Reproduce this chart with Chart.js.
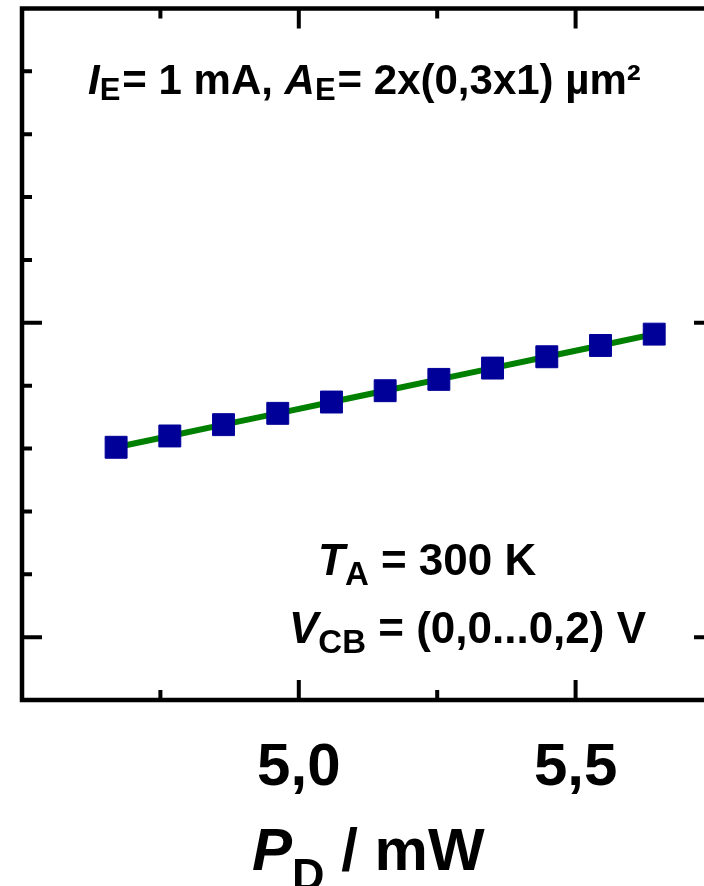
<!DOCTYPE html>
<html>
<head>
<meta charset="utf-8">
<title>P_D sweep</title>
<script src="https://cdn.jsdelivr.net/npm/chart.js@4.4.1/dist/chart.umd.min.js"></script>
<style>
    html, body { margin: 0; padding: 0; background: #ffffff; overflow: hidden; }
    #wrap { width: 704px; height: 886px; overflow: hidden; }
    canvas { display: block; }
</style>
</head>
<body>
<div id="wrap"><canvas id="pdChart" width="730" height="886"></canvas></div>
<script>
// dissipated power P_D in mW
const pdValues = [4.670, 4.767, 4.864, 4.962, 5.059, 5.156, 5.253, 5.350, 5.448, 5.545, 5.642];
// measured quantity (axis labels are cut off in the original, arbitrary units)
const yValues = [3.02, 3.20, 3.38, 3.56, 3.74, 3.92, 4.10, 4.28, 4.46, 4.64, 4.82];

const xTickValues = [4.75, 5.0, 5.25, 5.5];
const xTickLabels = ['', '5,0', '', '5,5'];
const xMajorTicks = [5.0, 5.5];
const yTickValues = [0, 1, 2, 3, 4, 5, 6, 7, 8, 9];
const yMajorTicks = [0, 5];

const FONT = 'Arial, "Liberation Sans", sans-serif';

// draw a row of text pieces (italic symbols, subscripts, superscripts)
function drawRuns(ctx, x, baseline, runs) {
    let cx = x;
    runs.forEach(r => {
        ctx.font = (r.italic ? 'italic ' : '') + 'bold ' + r.size + 'px ' + FONT;
        ctx.fillText(r.text, cx, baseline + (r.dy || 0));
        cx += ctx.measureText(r.text).width + (r.gap || 0);
    });
}

const framePlugin = {
    id: 'frame',
    afterDatasetsDraw(chart) {
        const ctx = chart.ctx;
        const a = chart.chartArea;
        const xs = chart.scales.x;
        const ys = chart.scales.y;
        ctx.save();
        ctx.strokeStyle = '#000000';
        ctx.fillStyle = '#000000';

        // box
        ctx.lineWidth = 4.5;
        ctx.strokeRect(a.left, a.top, a.right - a.left, a.bottom - a.top);

        // inward ticks
        ctx.lineWidth = 4;
        ctx.beginPath();
        xTickValues.forEach(v => {
            const px = xs.getPixelForValue(v);
            const len = xMajorTicks.includes(v) ? 20 : 10;
            ctx.moveTo(px, a.bottom); ctx.lineTo(px, a.bottom - len);
            ctx.moveTo(px, a.top); ctx.lineTo(px, a.top + len);
        });
        yTickValues.forEach(v => {
            const py = ys.getPixelForValue(v);
            const len = yMajorTicks.includes(v) ? 20 : 10;
            ctx.moveTo(a.left, py); ctx.lineTo(a.left + len, py);
            ctx.moveTo(a.right, py); ctx.lineTo(a.right - len, py);
        });
        ctx.stroke();

        // x tick labels
        ctx.textAlign = 'center';
        ctx.textBaseline = 'alphabetic';
        ctx.font = 'bold 60px ' + FONT;
        xTickValues.forEach((v, i) => {
            if (xTickLabels[i]) ctx.fillText(xTickLabels[i], xs.getPixelForValue(v), 785);
        });

        // axis title
        ctx.textAlign = 'left';
        drawRuns(ctx, 252, 870, [
            { text: 'P', size: 60, italic: true },
            { text: 'D', size: 45, dy: 20 },
            { text: ' / mW', size: 60 }
        ]);

        // annotations
        drawRuns(ctx, 88, 94, [
            { text: 'I', size: 42, italic: true },
            { text: 'E', size: 31, dy: 6, gap: 2 },
            { text: '= 1 mA, ', size: 42 },
            { text: 'A', size: 42, italic: true },
            { text: 'E', size: 31, dy: 6, gap: 2 },
            { text: '= 2x(0,3x1) µm²', size: 42 }
        ]);
        drawRuns(ctx, 318, 575, [
            { text: 'T', size: 44, italic: true },
            { text: 'A', size: 33, dy: 10 },
            { text: ' = 300 K', size: 44 }
        ]);
        drawRuns(ctx, 289, 643, [
            { text: 'V', size: 44, italic: true },
            { text: 'CB', size: 33, dy: 10 },
            { text: ' = (0,0...0,2) V', size: 44 }
        ]);
        ctx.restore();
    }
};

new Chart(document.getElementById('pdChart'), {
    type: 'scatter',
    data: {
        datasets: [{
            data: pdValues.map((x, i) => ({ x: x, y: yValues[i] })),
            showLine: true,
            borderColor: '#008000',
            borderWidth: 6,
            tension: 0,
            pointStyle: 'rect',
            pointRadius: 15.5,
            pointHoverRadius: 15.5,
            pointBackgroundColor: '#000099',
            pointBorderColor: '#000099',
            pointBorderWidth: 1
        }]
    },
    plugins: [framePlugin],
    options: {
        responsive: false,
        animation: false,
        events: [],
        layout: { autoPadding: false, padding: { left: 22, top: 8.5, right: 16, bottom: 186 } },
        plugins: {
            legend: { display: false },
            tooltip: { enabled: false }
        },
        scales: {
            x: { type: 'linear', min: 4.5, max: 5.75, display: false },
            y: { type: 'linear', min: -1, max: 10, display: false }
        }
    }
});
</script>
</body>
</html>
